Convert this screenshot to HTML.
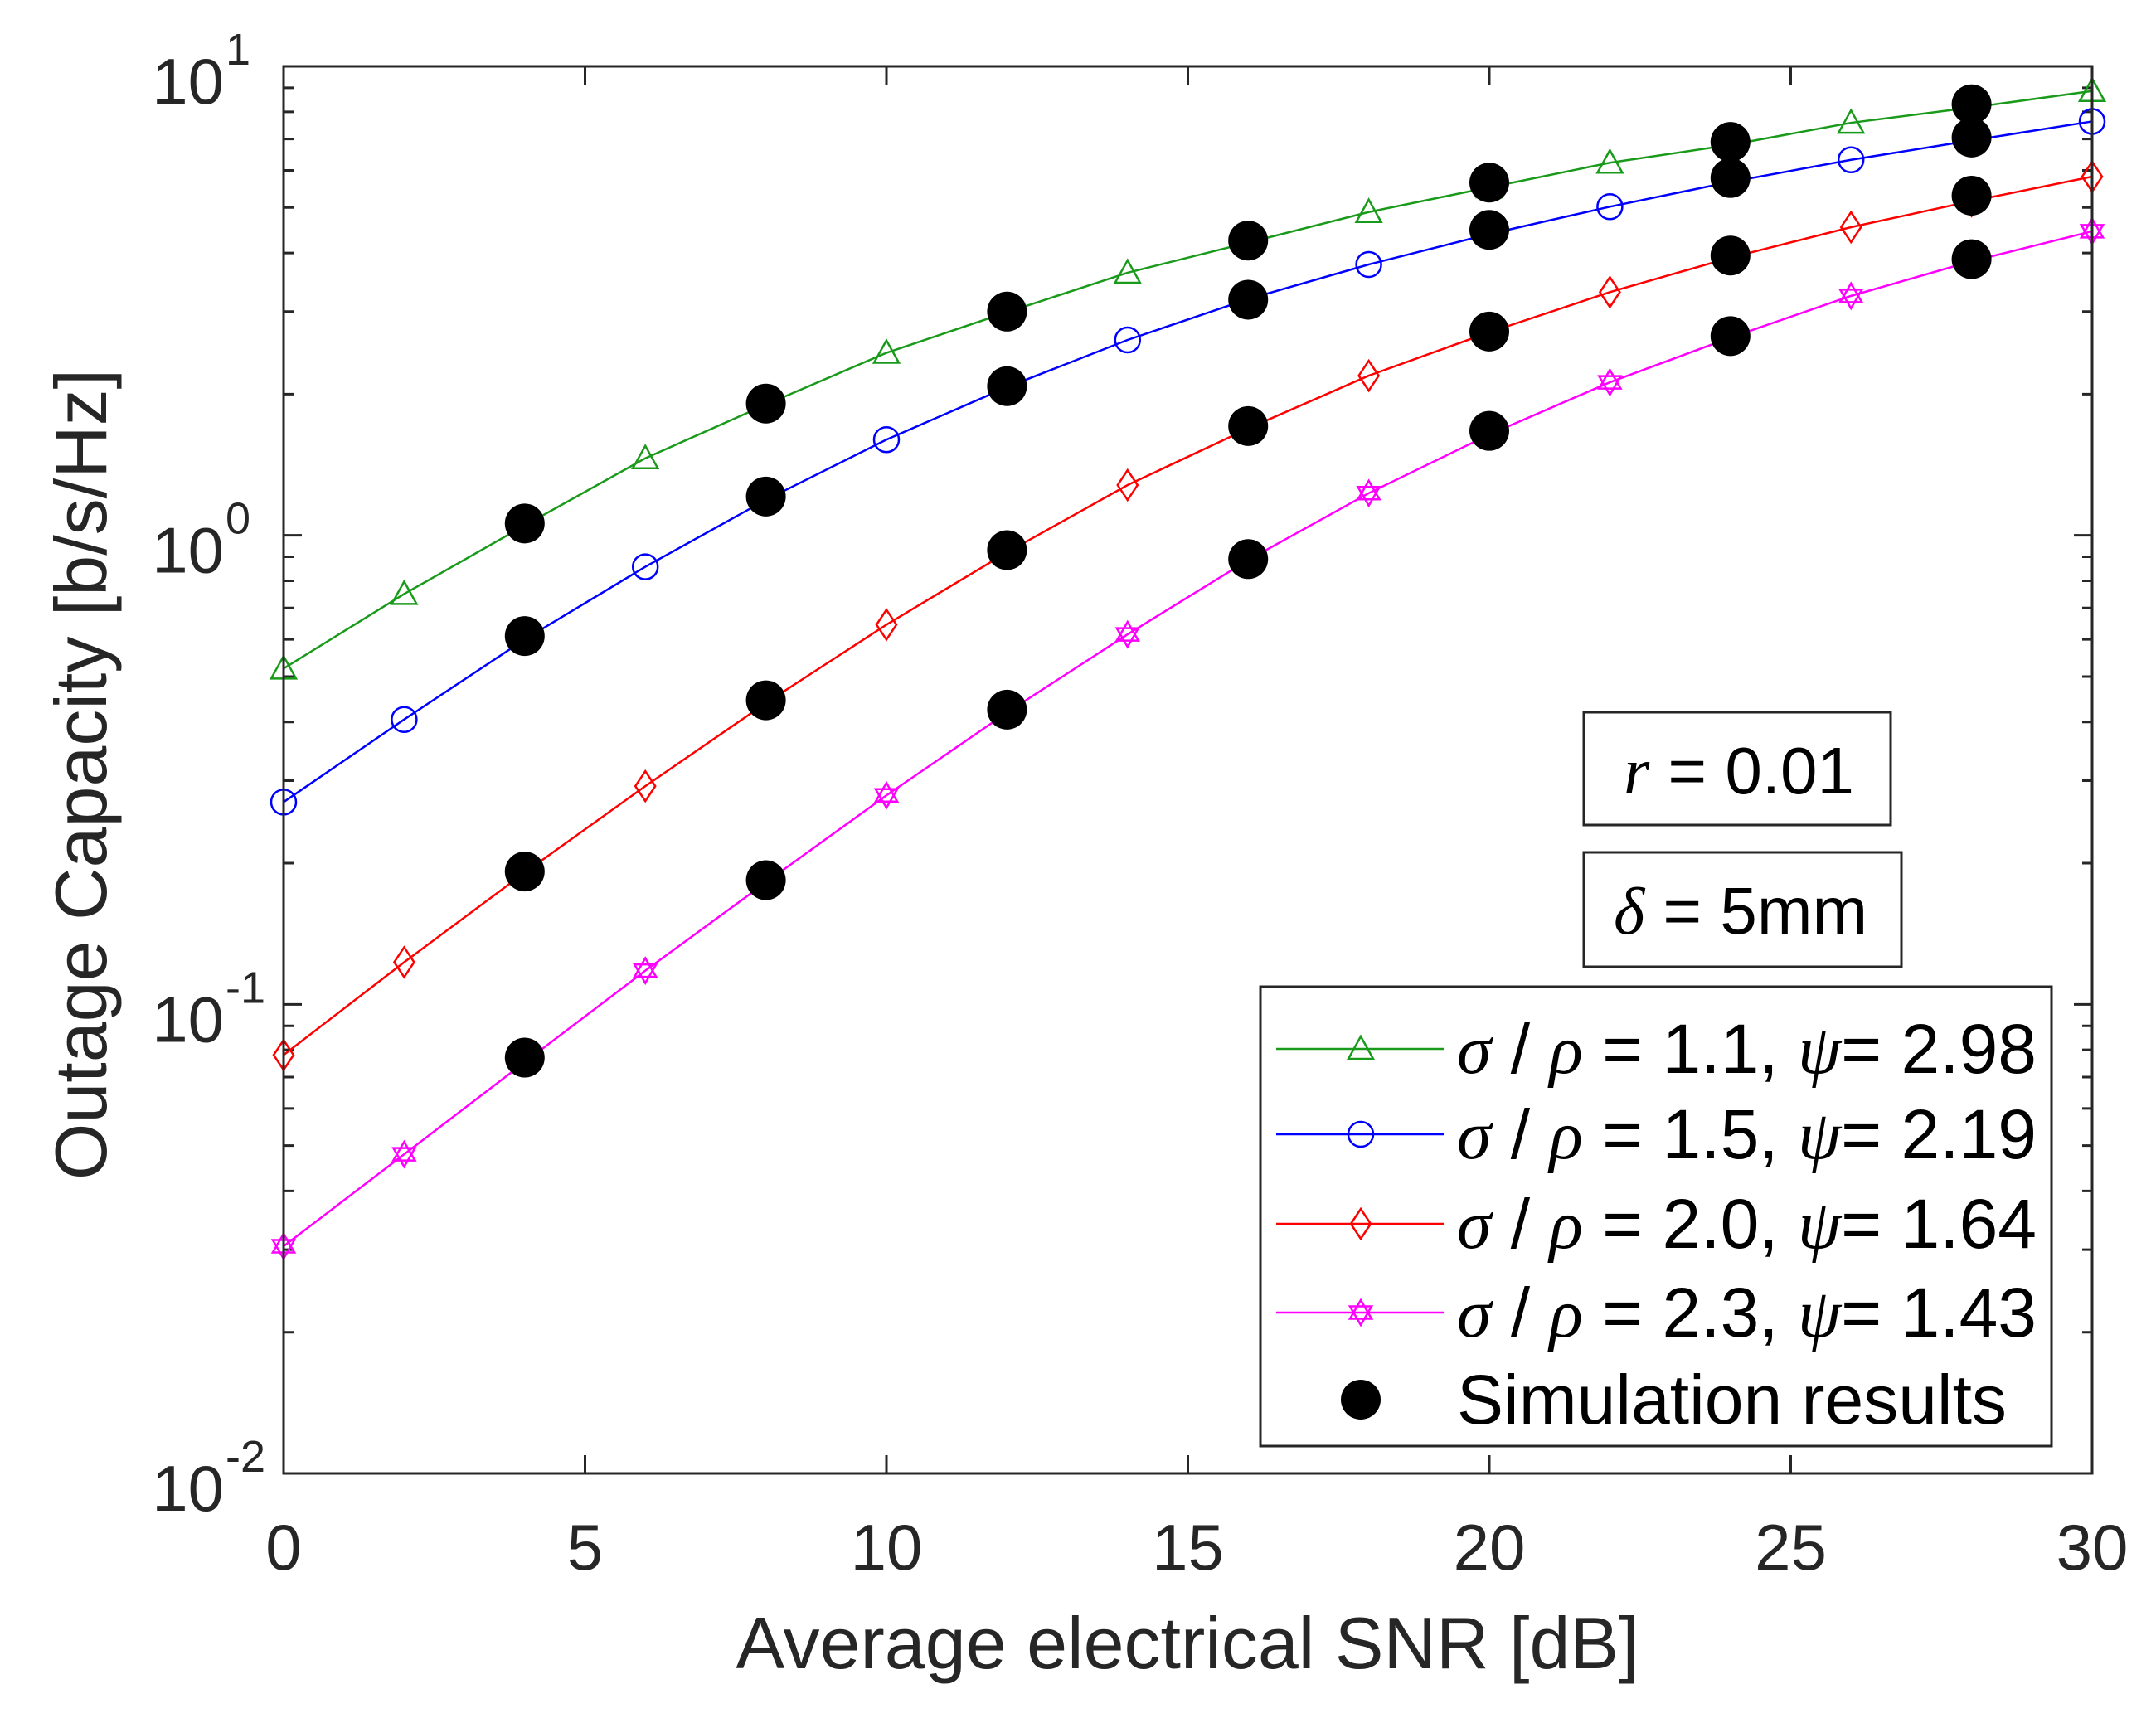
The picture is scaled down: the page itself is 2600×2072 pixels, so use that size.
<!DOCTYPE html>
<html><head><meta charset="utf-8"><style>
html,body{margin:0;padding:0;background:#fff;}
svg{display:block;font-family:"Liberation Sans",Arial,sans-serif;}
</style></head><body>
<svg id="chart" width="2600" height="2072" viewBox="0 0 2600 2072" xmlns="http://www.w3.org/2000/svg">
<rect x="0" y="0" width="2600" height="2072" fill="#fff"/>
<g id="grid"></g>
<g id="series"></g>
<rect x="342" y="80" width="2181" height="1697" fill="none" stroke="#262626" stroke-width="3"/>
<text x="1432" y="2012" font-size="88" text-anchor="middle" fill="#262626">Average electrical SNR [dB]</text>
<text transform="translate(128,934) rotate(-90)" font-size="88" text-anchor="middle" fill="#262626">Outage Capacity [b/s/Hz]</text>
<g>
<rect x="1910" y="859" width="370" height="136" fill="#fff" stroke="#262626" stroke-width="3"/>
<text x="1958" y="957" font-size="80" fill="#000"><tspan font-style="italic" font-family="Liberation Serif, serif">r</tspan> = 0.01</text>
</g>
<g>
<rect x="1910" y="1028" width="383" height="138" fill="#fff" stroke="#262626" stroke-width="3"/>
<text x="1946" y="1126" font-size="80" fill="#000"><tspan font-style="italic" font-family="Liberation Serif, serif">δ</tspan> = 5mm</text>
</g>
<g id="legend"></g>
</svg>
<script>
const snrTicks = [0,5,10,15,20,25,30];
const decadeExps = [-2,-1,0,1];
const snrCurve = [0,2,4,6,8,10,12,14,16,18,20,22,24,26,28,30];
const green = [0.52,0.75,1.05,1.46,1.90,2.45,2.99,3.63,4.21,4.89,5.52,6.23,6.8,7.58,8.17,8.86];
const blue = [0.27,0.405,0.60,0.857,1.19,1.60,2.07,2.61,3.19,3.78,4.39,5.02,5.67,6.32,6.95,7.63];
const red = [0.078,0.123,0.191,0.292,0.439,0.645,0.92,1.28,1.69,2.19,2.71,3.30,3.91,4.54,5.16,5.82];
const magenta = [0.0305,0.0479,0.0753,0.118,0.182,0.279,0.419,0.615,0.886,1.23,1.64,2.12,2.64,3.24,3.84,4.45];
const simSnr = [4,8,12,16,20,24,28];
const simGreen = [1.06,1.91,3.0,4.25,5.65,6.9,8.3];
const simBlue = [0.61,1.21,2.08,3.18,4.48,5.78,7.05];
const simRed = [0.192,0.445,0.93,1.71,2.72,3.95,5.3];
const simMagenta = [0.077,0.184,0.425,0.89,1.67,2.66,3.88];
const legendLabels = ["1.1","1.5","2.0","2.3"];
const legendPsi = ["2.98","2.19","1.64","1.43"];

const NS="http://www.w3.org/2000/svg";
const L=342,R=2523,T=80,B=1777;
const xs=v=>L+(v-0)/(30-0)*(R-L);
const ys=v=>B-(Math.log10(v)+2)/3*(B-T);
function mk(tag,attrs,parent){const e=document.createElementNS(NS,tag);for(const k in attrs)e.setAttribute(k,attrs[k]);parent.appendChild(e);return e;}
const grid=document.getElementById('grid');
const svg=document.getElementById('chart');
snrTicks.forEach(t=>{
  const x=xs(t);
  const tk=mk('path',{d:`M${x},${B}V${B-22}M${x},${T}V${T+22}`,stroke:'#262626','stroke-width':3},grid);
  
  
  const lb=mk('text',{x:x,y:1893,'font-size':78,'text-anchor':'middle',fill:'#262626'},svg);
  lb.textContent=t;
  
  
});
decadeExps.forEach(e=>{
  const y=ys(Math.pow(10,e));
  const tk=mk('path',{d:`M${L},${y}H${L+22}M${R},${y}H${R-22}`,stroke:'#262626','stroke-width':3},grid);
  
  
  const lb=mk('text',{x:270,y:y+45,'font-size':78,'text-anchor':'end',fill:'#262626'},svg);
  lb.textContent='10';
  
  
  const sp=mk('text',{x:272,y:y-2,'font-size':54,'text-anchor':'start',fill:'#262626'},svg);
  sp.textContent=String(e);
  
  
  if(e<1){for(let m=2;m<=9;m++){const yy=ys(m*Math.pow(10,e));
    const mt=mk('path',{d:`M${L},${yy}H${L+12}M${R},${yy}H${R-12}`,stroke:'#262626','stroke-width':3},grid);
    
    }}
});
const ser=document.getElementById('series');
function marker(kind,cx,cy,col,parent){
  const s=15;let el;
  if(kind==='tri') el=mk('polygon',{points:`${cx},${cy-s} ${cx-s},${cy+s*0.8} ${cx+s},${cy+s*0.8}`},parent);
  else if(kind==='circ') el=mk('circle',{cx:cx,cy:cy,r:s},parent);
  else if(kind==='dia') el=mk('polygon',{points:`${cx},${cy-s*1.2} ${cx+s*0.8},${cy} ${cx},${cy+s*1.2} ${cx-s*0.8},${cy}`},parent);
  else {el=mk('path',{d:`M${cx},${cy-s}L${cx+s*0.87},${cy+s*0.5}L${cx-s*0.87},${cy+s*0.5}Z M${cx},${cy+s}L${cx+s*0.87},${cy-s*0.5}L${cx-s*0.87},${cy-s*0.5}Z`},parent);}
  el.setAttribute('fill','none');el.setAttribute('stroke',col);el.setAttribute('stroke-width',2.5);
  return el;
}
const defs=[[green,'#1a9a1a','tri','series-sigma-1-1'],[blue,'#0000ff','circ','series-sigma-1-5'],[red,'#ff0000','dia','series-sigma-2-0'],[magenta,'#ff00ff','star','series-sigma-2-3']];
defs.forEach(([vals,col,kind,name])=>{
  const g=mk('g',{},ser);
  
  
  const pts=vals.map((v,i)=>xs(snrCurve[i])+','+ys(v)).join(' ');
  mk('polyline',{points:pts,fill:'none',stroke:col,'stroke-width':2.5},g);
  vals.forEach((v,i)=>{const m=marker(kind,xs(snrCurve[i]),ys(v),col,g);
    
    });
});
const simG=mk('g',{},ser);


[simGreen,simBlue,simRed,simMagenta].forEach(arr=>arr.forEach((v,i)=>{
  const c=mk('circle',{cx:xs(simSnr[i]),cy:ys(v),r:24,fill:'#000'},simG);
  
  
}));
const lg=document.getElementById('legend');
mk('rect',{x:1520,y:1190,width:954,height:554,fill:'#fff',stroke:'#262626','stroke-width':3},lg);
const ly=[1265,1368,1476,1583];
defs.forEach(([v,col,kind],i)=>{
  const e=mk('g',{},lg);
  
  
  mk('line',{x1:1539,x2:1741,y1:ly[i],y2:ly[i],stroke:col,'stroke-width':2.5},e);
  marker(kind,1641,ly[i],col,e);
  const t=mk('text',{x:1757,y:ly[i]+29,'font-size':84,fill:'#000'},e);
  t.innerHTML=`<tspan font-style="italic" font-family="Liberation Serif, serif">σ</tspan> / <tspan font-style="italic" font-family="Liberation Serif, serif">ρ</tspan> = ${legendLabels[i]}, <tspan font-style="italic" font-family="Liberation Serif, serif">ψ</tspan>= ${legendPsi[i]}`;
});
const se=mk('g',{},lg);


mk('circle',{cx:1641,cy:1688,r:24,fill:'#000'},se);
const st=mk('text',{x:1757,y:1717,'font-size':84,fill:'#000'},se);
st.textContent='Simulation results';
</script>
</body></html>
